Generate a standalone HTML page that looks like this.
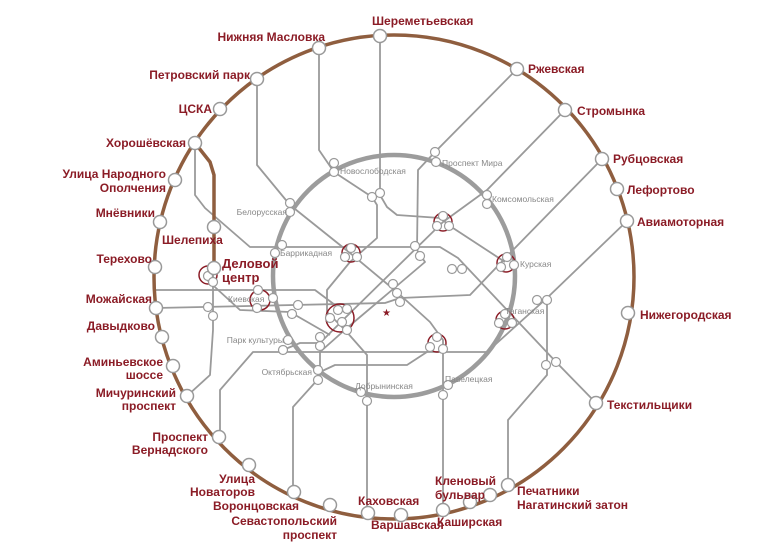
<!DOCTYPE html>
<html><head><meta charset="utf-8"><style>
html,body{margin:0;padding:0;background:#fff;}
svg{display:block;}
.r{font-family:"Liberation Sans",sans-serif;font-weight:bold;font-size:12px;fill:#8b1c26;}
.g{font-family:"Liberation Sans",sans-serif;font-size:8.5px;fill:#888;}
.l{fill:none;stroke:#9a9a9a;stroke-width:1.8;stroke-linejoin:round;}
.s{fill:#fff;stroke:#9a9a9a;stroke-width:1.2;}
.o{fill:#fff;stroke:#999;stroke-width:1.5;}
</style></head><body>
<svg width="782" height="554" viewBox="0 0 782 554" xmlns="http://www.w3.org/2000/svg">
<g class="l">
<polyline points="257,79 257,165 290,205 350,253 398,293 430,322 443,340 443,510"/>
<polyline points="319,48 319,150 334,172 372,197 377,205 377,238 350,262 327,290 327,312 345,330 367,355 367,513"/>
<polyline points="380,36 380,195 387,207 397,215 440,218 453,228 505,262"/>
<polyline points="517,69 435,152 418,170 417,250 425,262 392,290 347,328 320,352 320,377 293,407 293,492"/>
<polyline points="565,110 487,190 443,222 345,318 320,343 300,343 283,350"/>
<polyline points="602,159 513,250 470,295 400,298 385,303 156,308"/>
<polyline points="155,290 315,290 335,305"/>
<polyline points="220,437 220,390 253,352 487,352 547,298 627,221"/>
<polyline points="195,150 195,195 205,208 250,247 440,247 458,258 557,363 596,403"/>
<polyline points="508,485 508,420 547,375 547,305 540,298"/>
<polyline points="187,396 210,375 213,330 213,270"/>
<polyline points="205,278 240,310 290,312 330,335"/>
<polyline points="320,372 335,365 407,365 430,350"/>
</g>
<circle cx="394" cy="276" r="121" fill="none" stroke="#9c9c9c" stroke-width="4.5"/>
<ellipse cx="394" cy="277" rx="240" ry="242" fill="none" stroke="#8f5e3f" stroke-width="3.5"/>
<polyline points="195,143 210,162 214,175 214,268" fill="none" stroke="#8f5e3f" stroke-width="3.5"/>
<g fill="none" stroke="#8b1c26" stroke-width="1.5">
<circle cx="340" cy="318" r="14"/>
<circle cx="351" cy="253" r="9"/>
<circle cx="443" cy="222" r="9"/>
<circle cx="506" cy="263" r="9"/>
<circle cx="505" cy="320" r="9"/>
<circle cx="437" cy="343" r="9"/>
<circle cx="260" cy="300" r="10"/>
<circle cx="208" cy="275" r="9"/>
</g>
<text x="382" y="316" font-size="10" fill="#8b1c26" font-family="Liberation Sans">★</text>
<g class="s">
<circle cx="334" cy="163" r="4.5"/><circle cx="334" cy="172" r="4.5"/><circle cx="372" cy="197" r="4.5"/><circle cx="380" cy="193" r="4.5"/>
<circle cx="435" cy="152" r="4.5"/><circle cx="436" cy="162" r="4.5"/><circle cx="487" cy="195" r="4.5"/><circle cx="487" cy="204" r="4.5"/>
<circle cx="290" cy="203" r="4.5"/><circle cx="290" cy="212" r="4.5"/><circle cx="282" cy="245" r="4.5"/><circle cx="275" cy="253" r="4.5"/>
<circle cx="351" cy="248" r="4.5"/><circle cx="345" cy="257" r="4.5"/><circle cx="357" cy="257" r="4.5"/>
<circle cx="443" cy="216" r="4.5"/><circle cx="437" cy="226" r="4.5"/><circle cx="449" cy="226" r="4.5"/>
<circle cx="507" cy="257" r="4.5"/><circle cx="501" cy="267" r="4.5"/><circle cx="514" cy="265" r="4.5"/>
<circle cx="415" cy="246" r="4.5"/><circle cx="420" cy="256" r="4.5"/><circle cx="452" cy="269" r="4.5"/><circle cx="462" cy="269" r="4.5"/>
<circle cx="393" cy="284" r="4.5"/><circle cx="397" cy="293" r="4.5"/><circle cx="400" cy="302" r="4.5"/>
<circle cx="258" cy="290" r="4.5"/><circle cx="257" cy="308" r="4.5"/><circle cx="273" cy="298" r="4.5"/>
<circle cx="208" cy="276" r="4.5"/><circle cx="213" cy="282" r="4.5"/><circle cx="208" cy="307" r="4.5"/><circle cx="213" cy="316" r="4.5"/>
<circle cx="298" cy="305" r="4.5"/><circle cx="292" cy="314" r="4.5"/>
<circle cx="330" cy="318" r="4.5"/><circle cx="338" cy="310" r="4.5"/><circle cx="347" cy="309" r="4.5"/><circle cx="342" cy="322" r="4.5"/><circle cx="347" cy="330" r="4.5"/>
<circle cx="320" cy="337" r="4.5"/><circle cx="320" cy="346" r="4.5"/>
<circle cx="437" cy="337" r="4.5"/><circle cx="430" cy="347" r="4.5"/><circle cx="443" cy="349" r="4.5"/>
<circle cx="505" cy="314" r="4.5"/><circle cx="499" cy="323" r="4.5"/><circle cx="512" cy="323" r="4.5"/>
<circle cx="537" cy="300" r="4.5"/><circle cx="547" cy="300" r="4.5"/><circle cx="546" cy="365" r="4.5"/><circle cx="556" cy="362" r="4.5"/>
<circle cx="288" cy="340" r="4.5"/><circle cx="283" cy="350" r="4.5"/><circle cx="318" cy="370" r="4.5"/><circle cx="318" cy="380" r="4.5"/>
<circle cx="361" cy="392" r="4.5"/><circle cx="367" cy="401" r="4.5"/><circle cx="448" cy="385" r="4.5"/><circle cx="443" cy="395" r="4.5"/>
</g>
<g class="o">
<circle cx="380" cy="36" r="6.5"/><circle cx="319" cy="48" r="6.5"/><circle cx="257" cy="79" r="6.5"/><circle cx="220" cy="109" r="6.5"/>
<circle cx="195" cy="143" r="6.5"/><circle cx="175" cy="180" r="6.5"/><circle cx="160" cy="222" r="6.5"/><circle cx="214" cy="227" r="6.5"/>
<circle cx="155" cy="267" r="6.5"/><circle cx="214" cy="268" r="6.5"/><circle cx="156" cy="308" r="6.5"/><circle cx="162" cy="337" r="6.5"/>
<circle cx="173" cy="366" r="6.5"/><circle cx="187" cy="396" r="6.5"/><circle cx="219" cy="437" r="6.5"/><circle cx="249" cy="465" r="6.5"/>
<circle cx="294" cy="492" r="6.5"/><circle cx="330" cy="505" r="6.5"/><circle cx="368" cy="513" r="6.5"/><circle cx="401" cy="515" r="6.5"/>
<circle cx="443" cy="510" r="6.5"/><circle cx="470" cy="502" r="6.5"/><circle cx="490" cy="495" r="6.5"/><circle cx="508" cy="485" r="6.5"/>
<circle cx="596" cy="403" r="6.5"/><circle cx="628" cy="313" r="6.5"/><circle cx="627" cy="221" r="6.5"/><circle cx="617" cy="189" r="6.5"/>
<circle cx="602" cy="159" r="6.5"/><circle cx="565" cy="110" r="6.5"/><circle cx="517" cy="69" r="6.5"/>
</g>
<g class="r">
<text x="372" y="25">Шереметьевская</text>
<text x="325" y="41" text-anchor="end">Нижняя Масловка</text>
<text x="250" y="79" text-anchor="end">Петровский парк</text>
<text x="212" y="113" text-anchor="end">ЦСКА</text>
<text x="186" y="147" text-anchor="end">Хорошёвская</text>
<text x="166" y="178" text-anchor="end">Улица Народного</text>
<text x="166" y="192" text-anchor="end">Ополчения</text>
<text x="155" y="217" text-anchor="end">Мнёвники</text>
<text x="162" y="244">Шелепиха</text>
<text x="152" y="263" text-anchor="end">Терехово</text>
<text x="222" y="268" font-size="13">Деловой</text>
<text x="222" y="282" font-size="13">центр</text>
<text x="152" y="303" text-anchor="end">Можайская</text>
<text x="155" y="330" text-anchor="end">Давыдково</text>
<text x="163" y="366" text-anchor="end">Аминьевское</text>
<text x="163" y="379" text-anchor="end">шоссе</text>
<text x="176" y="397" text-anchor="end">Мичуринский</text>
<text x="176" y="410" text-anchor="end">проспект</text>
<text x="208" y="441" text-anchor="end">Проспект</text>
<text x="208" y="454" text-anchor="end">Вернадского</text>
<text x="255" y="483" text-anchor="end">Улица</text>
<text x="255" y="496" text-anchor="end">Новаторов</text>
<text x="299" y="510" text-anchor="end">Воронцовская</text>
<text x="337" y="525" text-anchor="end">Севастопольский</text>
<text x="337" y="539" text-anchor="end">проспект</text>
<text x="358" y="505">Каховская</text>
<text x="371" y="529">Варшавская</text>
<text x="437" y="526">Каширская</text>
<text x="435" y="485">Кленовый</text>
<text x="435" y="499">бульвар</text>
<text x="517" y="495">Печатники</text>
<text x="517" y="509">Нагатинский затон</text>
<text x="607" y="409">Текстильщики</text>
<text x="640" y="319">Нижегородская</text>
<text x="637" y="226">Авиамоторная</text>
<text x="627" y="194">Лефортово</text>
<text x="613" y="163">Рубцовская</text>
<text x="577" y="115">Стромынка</text>
<text x="528" y="73">Ржевская</text>
</g>
<g class="g">
<text x="340" y="174">Новослободская</text>
<text x="442" y="166">Проспект Мира</text>
<text x="287" y="215" text-anchor="end">Белорусская</text>
<text x="492" y="202">Комсомольская</text>
<text x="280" y="256">Баррикадная</text>
<text x="520" y="267">Курская</text>
<text x="228" y="302">Киевская</text>
<text x="505" y="314">Таганская</text>
<text x="284" y="343" text-anchor="end">Парк культуры</text>
<text x="312" y="375" text-anchor="end">Октябрьская</text>
<text x="355" y="389">Добрынинская</text>
<text x="445" y="382">Павелецкая</text>
</g>
</svg>
</body></html>
